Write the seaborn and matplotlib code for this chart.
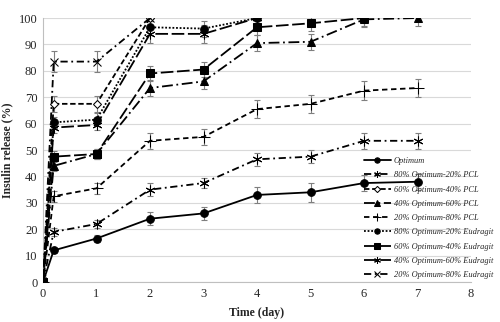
import seaborn as sns
import matplotlib.pyplot as plt

# time points (day)
t_full = [0, 0.2, 1, 2, 3, 4, 5, 6, 7]

# Optimum and PCL blends
optimum = [0, 12, 16.5, 24, 26, 33, 34, 37.5, 38]
optimum_err = [2.5, 1, 1.2, 2.5, 2.5, 3, 3.5, 3, 3]
pcl_80_20 = [0, 19, 22, 35, 37.5, 46.5, 47.5, 53.5, 53.5]
pcl_80_20_err = [2, 1.5, 1.5, 2.5, 2, 2.5, 2.5, 3, 3]
pcl_60_40 = [0, 67.5, 67.5, 100]
pcl_60_40_err = [2, 3, 3, 1]
pcl_40_60 = [0, 44, 48.5, 73.5, 76, 90.5, 91, 99.5, 100]
pcl_40_60_err = [2, 2, 2, 3, 3, 3, 3, 3, 3]
pcl_20_80 = [0, 32.5, 35.5, 53.5, 55, 65.5, 67.5, 72.5, 73.5]
pcl_20_80_err = [2, 2, 2, 3, 3, 3.5, 3.5, 3.5, 3.5]

# Eudragit blends
eud_80_20 = [0, 60.5, 61.5, 96.5, 96, 100]
eud_80_20_err = [2, 2, 2.5, 3, 3, 1]
eud_60_40 = [0, 47.5, 48.5, 79, 80.5, 96.5, 98, 100]
eud_60_40_err = [2, 2, 2, 3, 3, 3, 3, 3]
eud_40_60 = [0, 58.5, 59.5, 94, 94, 100]
eud_40_60_err = [2, 2, 2, 3.5, 3.5, 2]
eud_20_80 = [0, 83.5, 83.5, 100]
eud_20_80_err = [2, 4, 4, 1]

labels = ["Optimum", "80% Optimum-20% PCL", "60% Optimum-40% PCL",
          "40% Optimum-60% PCL", "20% Optimum-80% PCL",
          "80% Optimum-20% Eudragit", "60% Optimum-40% Eudragit",
          "40% Optimum-60% Eudragit", "20% Optimum-80% Eudragit"]

series = [optimum, pcl_80_20, pcl_60_40, pcl_40_60, pcl_20_80,
          eud_80_20, eud_60_40, eud_40_60, eud_20_80]
errors = [optimum_err, pcl_80_20_err, pcl_60_40_err, pcl_40_60_err, pcl_20_80_err,
          eud_80_20_err, eud_60_40_err, eud_40_60_err, eud_20_80_err]

styles = [
    dict(ls="-", marker="o", ms=5.5),
    dict(dashes=(4, 2, 1, 2), marker=(6, 2, 0), ms=7),
    dict(dashes=(3, 1.5), marker="D", ms=4.5, mfc="white"),
    dict(dashes=(6, 2, 1, 2), marker="^", ms=5.5),
    dict(dashes=(3, 2), marker="+", ms=8),
    dict(dashes=(1, 1), marker="o", ms=5.5),
    dict(dashes=(7, 2), marker="s", ms=5.5),
    dict(dashes=(7, 2), marker=(6, 2, 0), ms=7),
    dict(dashes=(4, 2, 1, 2), marker="x", ms=6),
]

sns.set_style("white")
plt.rcParams['font.family'] = ['Liberation Serif', 'DejaVu Serif']

fig = plt.figure(figsize=(5, 3.22), dpi=100)
ax = fig.add_axes([0.086, 0.124, 0.856, 0.82])

for y, e, lab, st in zip(series, errors, labels, styles):
    t = t_full[:len(y)]
    ax.errorbar(t, y, yerr=e, fmt="none", ecolor="#7f7f7f", elinewidth=0.8,
                capsize=2.5, capthick=0.8, zorder=2)
    sns.lineplot(x=t, y=y, ax=ax, color="black", lw=1.3, label=lab,
                 mec="black", zorder=3, **st)

ax.set_xlim(0, 8)
ax.set_ylim(0, 100)
ax.set_xticks(range(0, 9))
ax.set_yticks(range(0, 101, 10))
ax.yaxis.grid(True, color="#d9d9d9", lw=0.8)
ax.set_axisbelow(True)
for s in ["top", "right"]:
    ax.spines[s].set_visible(False)
for s in ["left", "bottom"]:
    ax.spines[s].set_color("#bfbfbf")
    ax.spines[s].set_linewidth(0.8)
ax.tick_params(labelsize=9, length=0, pad=4)
ax.set_xlabel("Time (day)", fontsize=8.5, fontweight="bold", labelpad=5)
ax.set_ylabel("Insulin release (%)", fontsize=8.5, fontweight="bold", labelpad=4)

leg = ax.legend(loc="upper right", bbox_to_anchor=(0.995, 0.525),
                bbox_transform=fig.transFigure, frameon=False,
                prop=dict(size=6, style="italic"), handlelength=3.2,
                labelspacing=0.75, handletextpad=0.4, borderpad=0.0,
                markerscale=0.7)

fig.savefig("out.png", dpi=100)
